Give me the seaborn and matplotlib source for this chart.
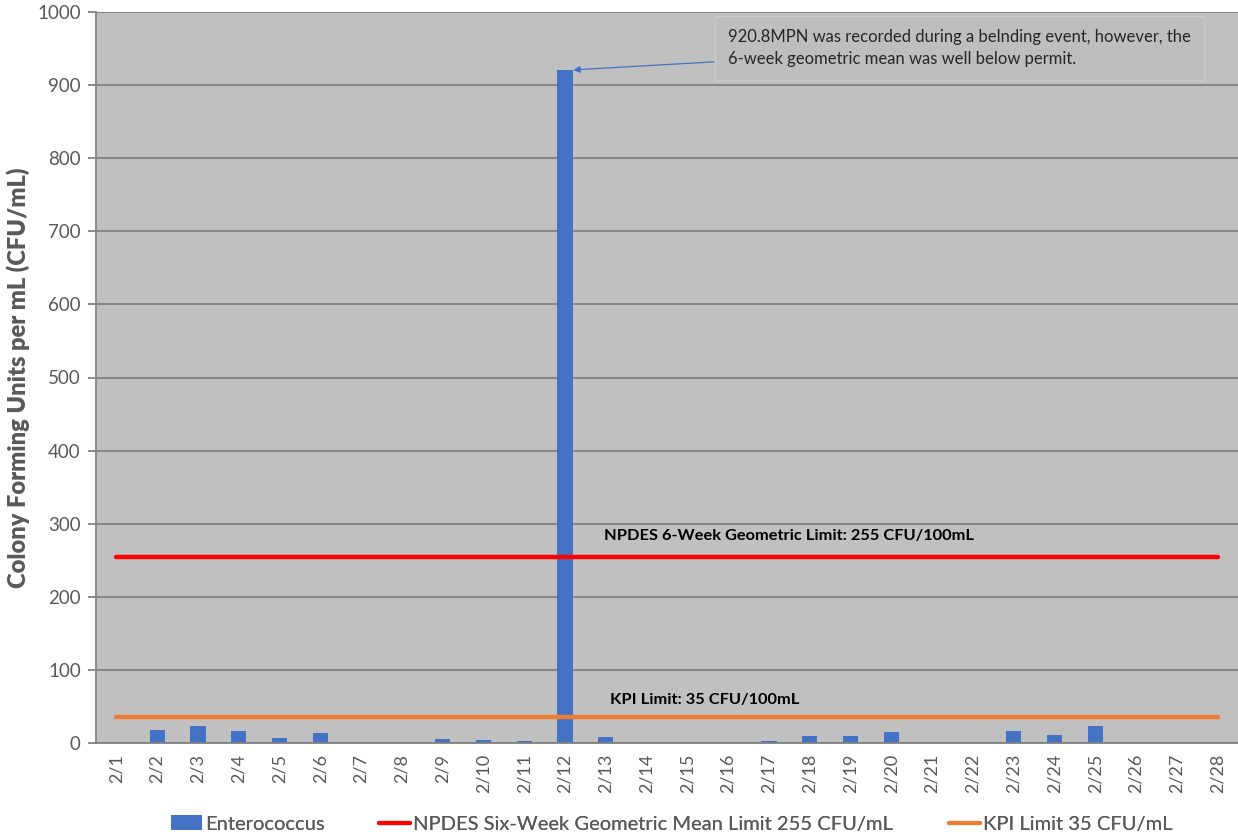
import numpy as np
import pandas as pd
import matplotlib
matplotlib.use("Agg")
import matplotlib.pyplot as plt
from matplotlib.patches import Patch
from matplotlib.lines import Line2D
import seaborn as sns

# Daily sample dates for February
dates = [f"2/{d}" for d in range(1, 29)]

# Enterococcus results (CFU/mL); NaN = no sample that day
enterococcus = [np.nan, 17.8, 23.7, 16.8, 6.8, 14.0, np.nan, np.nan, 5.9, 4.5,
                2.7, 920.8, 8.2, np.nan, np.nan, np.nan, 2.7, 9.0, 9.0, 15.5,
                np.nan, np.nan, 16.8, 11.4, 23.7, np.nan, np.nan, np.nan]

NPDES_LIMIT = 255
KPI_LIMIT = 35

y_ticks = list(range(0, 1001, 100))

BAR_BLUE = "#4472C4"
LIMIT_RED = "#FF0000"
KPI_ORANGE = "#ED7D31"
TEXT_GREY = "#595959"

sns.set_theme(style="white")
plt.rcParams["font.family"] = ["Lato", "DejaVu Sans"]

df = pd.DataFrame({"date": dates, "cfu": enterococcus})

fig = plt.figure(figsize=(12.38, 8.39), dpi=100)
ax = fig.add_axes([96 / 1238, 1 - 743 / 839, (1238 - 96) / 1238, (743 - 12) / 839])
ax.set_facecolor("#C0C0C0")

sns.barplot(data=df, x="date", y="cfu", order=dates, color=BAR_BLUE,
            width=0.37, saturation=1, linewidth=0, edgecolor="none",
            ax=ax, zorder=2)

ax.plot(dates, [NPDES_LIMIT] * len(dates), color=LIMIT_RED, lw=3.2,
        solid_capstyle="round", zorder=3)
ax.plot(dates, [KPI_LIMIT] * len(dates), color=KPI_ORANGE, lw=3.2,
        solid_capstyle="round", zorder=3)

ax.set_xlim(-0.5, len(dates) - 0.5)
ax.set_ylim(0, 1000)
ax.set_yticks(y_ticks)
ax.yaxis.grid(True, color="#808080", lw=1.3, zorder=0)
ax.set_axisbelow(True)

for side in ["top", "right"]:
    ax.spines[side].set_visible(False)
ax.spines["left"].set_color("#868686")
ax.spines["left"].set_linewidth(1.3)
ax.spines["bottom"].set_color("#808080")
ax.spines["bottom"].set_linewidth(1.3)

ax.tick_params(axis="y", which="major", length=6, width=1.3, color="#808080",
               left=True, labelsize=13.5, labelcolor=TEXT_GREY, pad=5)
ax.tick_params(axis="x", length=0, labelsize=13, labelcolor=TEXT_GREY, pad=8)
plt.setp(ax.get_xticklabels(), rotation=90)

ax.set_xlabel("")
ax.set_ylabel("Colony Forming Units per mL (CFU/mL)", fontsize=17,
              fontweight="heavy", color=TEXT_GREY, labelpad=5)

# Limit labels
ax.text(11.95, 283, "NPDES 6-Week Geometric Limit: 255 CFU/100mL",
        fontsize=11.8, fontweight="bold", color="black", ha="left", va="center")
ax.text(12.1, 59, "KPI Limit: 35 CFU/100mL",
        fontsize=11.8, fontweight="bold", color="black", ha="left", va="center")

# Callout for the spike
ax.annotate("920.8MPN was recorded during a belnding event, however, the\n"
            "6-week geometric mean was well below permit.",
            xy=(11.2, 920.8), xytext=(15.0, 951),
            fontsize=12, color="#262626", ha="left", va="center",
            linespacing=1.45,
            bbox=dict(boxstyle="square,pad=0.8", fc="#BEBEBE", ec="#CACACA", lw=1),
            arrowprops=dict(arrowstyle="-|>", color=BAR_BLUE, lw=0.9,
                            mutation_scale=10, shrinkA=0, shrinkB=0),
            zorder=5)

# Legend entries placed individually along the bottom
entries = [
    (Patch(facecolor=BAR_BLUE, edgecolor="none"), "Enterococcus", 171),
    (Line2D([0], [0], color=LIMIT_RED, lw=3),
     "NPDES Six-Week Geometric Mean Limit 255 CFU/mL", 379),
    (Line2D([0], [0], color=KPI_ORANGE, lw=3), "KPI Limit 35 CFU/mL", 949),
]
for handle, label, xpix in entries:
    leg = fig.legend([handle], [label], loc="center left",
                     bbox_to_anchor=(xpix / 1238, 1 - 824 / 839),
                     frameon=False, fontsize=14.5, handlelength=1.55,
                     handleheight=0.75, handletextpad=0.15, borderpad=0,
                     borderaxespad=0, labelcolor=TEXT_GREY)
    fig.add_artist(leg)

fig.savefig("out.png", dpi=100, facecolor="white")
